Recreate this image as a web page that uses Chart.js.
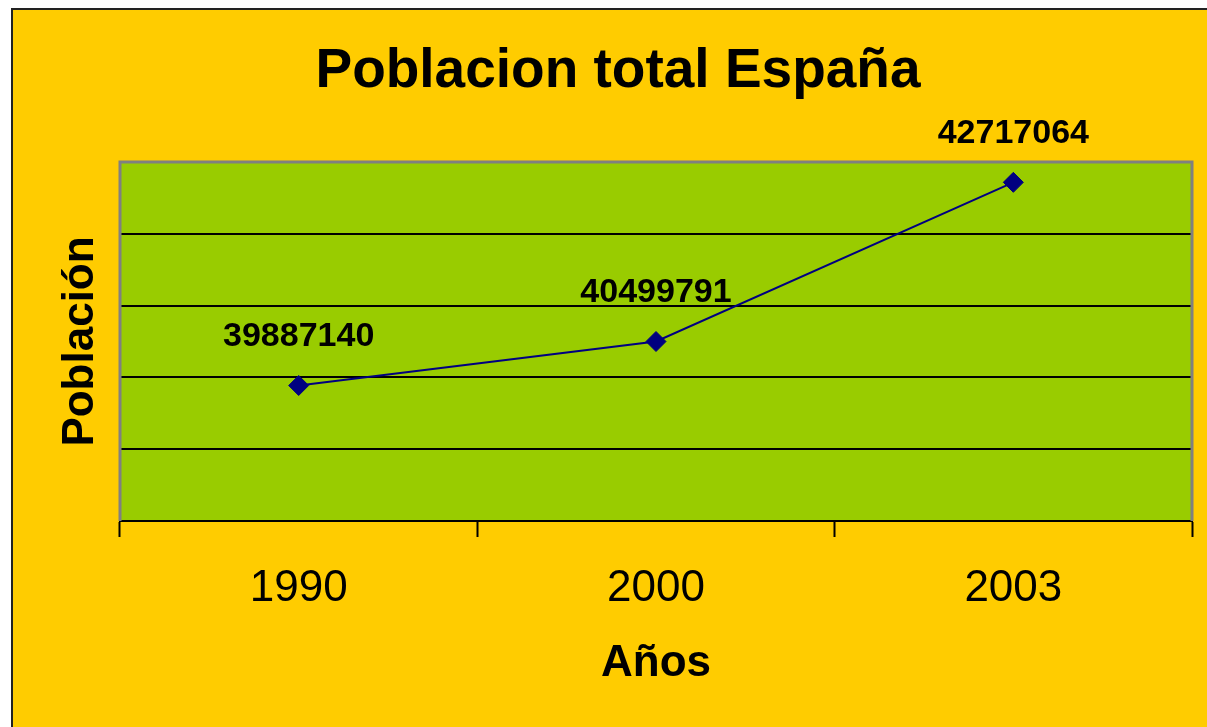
<!DOCTYPE html>
<html>
<head>
<meta charset="utf-8">
<script src="https://cdn.jsdelivr.net/npm/chart.js@4.4.1/dist/chart.umd.min.js"></script>
<style>
  html, body { margin: 0; padding: 0; background: #fff; overflow: hidden; }
  canvas { display: block; }
</style>
</head>
<body>
<canvas id="chart" width="1207" height="727"></canvas>
<script>
// Data
const years = ['1990', '2000', '2003'];
const population = [39887140, 40499791, 42717064];
const yMin = 38000000;
const yMax = 43000000;
const yStep = 1000000;

const FONT = '"Liberation Sans", Arial, sans-serif';

// Frame: white margin, black border, orange background, green plot area
const framePlugin = {
    id: 'frame',
    beforeDraw(chart) {
        const ctx = chart.ctx;
        const a = chart.chartArea;
        ctx.save();
        ctx.fillStyle = '#ffffff';
        ctx.fillRect(0, 0, chart.width, chart.height);
        ctx.fillStyle = '#FFCC00';
        ctx.fillRect(12, 9, chart.width, chart.height);
        ctx.strokeStyle = '#222';
        ctx.lineWidth = 2;
        ctx.beginPath();
        ctx.moveTo(12, chart.height);
        ctx.lineTo(12, 9);
        ctx.lineTo(chart.width, 9);
        ctx.stroke();
        ctx.fillStyle = '#99CC00';
        ctx.fillRect(a.left, a.top, a.right - a.left, a.bottom - a.top);
        ctx.restore();
    },
    beforeDatasetsDraw(chart) {
        // gray border on top, left and right of the plot area
        const ctx = chart.ctx;
        const a = chart.chartArea;
        ctx.save();
        ctx.strokeStyle = '#808080';
        ctx.lineWidth = 3;
        ctx.beginPath();
        ctx.moveTo(a.left, a.bottom);
        ctx.lineTo(a.left, a.top);
        ctx.lineTo(a.right, a.top);
        ctx.lineTo(a.right, a.bottom);
        ctx.stroke();
        ctx.restore();
    }
};

// Value labels above each point
const valueLabels = {
    id: 'valueLabels',
    afterDatasetsDraw(chart) {
        const ctx = chart.ctx;
        const meta = chart.getDatasetMeta(0);
        ctx.save();
        ctx.font = 'bold 34px ' + FONT;
        ctx.fillStyle = '#000';
        ctx.textAlign = 'center';
        ctx.textBaseline = 'middle';
        meta.data.forEach((pt, i) => {
            ctx.fillText(String(population[i]), pt.x, pt.y - 49);
        });
        ctx.restore();
    }
};

const ctx = document.getElementById('chart').getContext('2d');
const chart = new Chart(ctx, {
    type: 'line',
    data: {
        labels: years,
        datasets: [{
            data: population,
            borderColor: '#000080',
            backgroundColor: '#000080',
            borderWidth: 2,
            pointStyle: 'rectRot',
            pointRadius: 10,
            pointHoverRadius: 10,
            pointBorderWidth: 1,
            tension: 0
        }]
    },
    options: {
        responsive: false,
        animation: false,
        layout: { padding: { left: 44, right: 15, top: 0, bottom: 0 } },
        plugins: {
            legend: { display: false },
            tooltip: { enabled: false },
            title: {
                display: true,
                text: 'Poblacion total España',
                color: '#000',
                font: { family: FONT, size: 55, weight: 'bold' },
                padding: { top: 39, bottom: 57 }
            }
        },
        scales: {
            x: {
                offset: true,
                grid: {
                    offset: true,
                    drawOnChartArea: false,
                    drawTicks: true,
                    tickLength: 16,
                    tickColor: '#000',
                    tickWidth: 2
                },
                border: { display: true, color: '#000', width: 2 },
                ticks: {
                    color: '#000',
                    font: { family: FONT, size: 44 },
                    padding: 25,
                    maxRotation: 0
                },
                title: {
                    display: true,
                    text: 'Años',
                    color: '#000',
                    font: { family: FONT, size: 44, weight: 'bold' },
                    padding: { top: 0, bottom: 37 }
                },
                afterFit(scale) { scale.height = 206; }
            },
            y: {
                min: yMin,
                max: yMax,
                ticks: { display: false, stepSize: yStep },
                grid: {
                    drawTicks: false,
                    lineWidth: 2,
                    color: (c) => (c.tick && c.tick.value === yMax) ? 'rgba(0,0,0,0)' : '#000'
                },
                border: { display: false },
                title: {
                    display: true,
                    text: 'Población',
                    color: '#000',
                    font: { family: FONT, size: 44, weight: 'bold' },
                    padding: { top: 10, bottom: 0 }
                },
                afterFit(scale) { scale.width = 76; }
            }
        }
    },
    plugins: [framePlugin, valueLabels]
});
</script>
</body>
</html>
